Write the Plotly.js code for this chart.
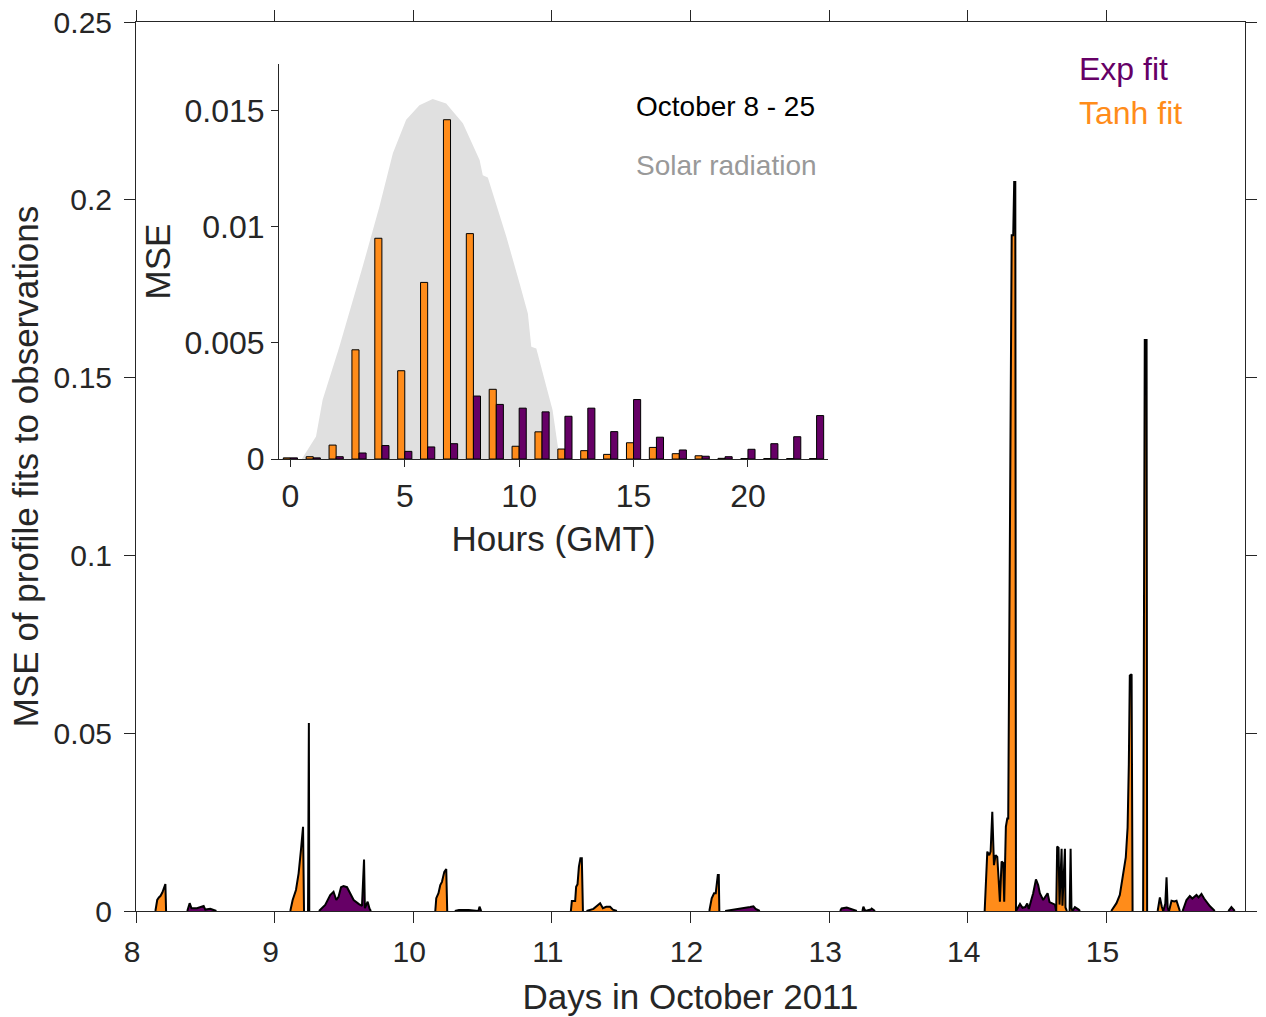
<!DOCTYPE html>
<html>
<head>
<meta charset="utf-8">
<script src="https://cdn.plot.ly/plotly-3.0.1.min.js"></script>
<style>
  html, body { margin: 0; padding: 0; background: #ffffff; }
  #chart { width: 1266px; height: 1017px; }
</style>
</head>
<body>
<div id="chart"></div>
<script>
// MSE of the tanh profile fit, by day of October 2011 (null separates bursts)
const tanhDay = [
  8.140, 8.148, 8.153, 8.165, 8.176, 8.190, 8.207, 8.212, 8.217, null,
  9.113, 9.130, 9.154, 9.173, 9.190, 9.205, 9.212, null,
  9.241, 9.244, 9.247, 9.250, null,
  10.159, 10.166, 10.182, 10.195, 10.207, 10.224, 10.238, 10.245, null,
  11.137, 11.144, 11.168, 11.175, 11.185, 11.195, 11.206, 11.216, 11.224, null,
  11.250, 11.300, 11.348, 11.368, 11.392, 11.420, 11.440, 11.469, null,
  12.136, 12.153, 12.170, 12.182, 12.197, 12.204, 12.208, null,
  14.122, 14.141, 14.155, 14.165, 14.177, 14.189, 14.201, 14.213, 14.223, 14.232,
  14.244, 14.256, 14.263, 14.275, 14.285, 14.292, 14.317, 14.328, 14.335, 14.343, 14.348, null,
  14.638, 14.645, 14.655, 14.662, 14.677, 14.683, 14.701, 14.705, 14.715, null,
  14.735, 14.742, 14.748, 14.755, null,
  15.035, 15.073, 15.097, 15.114, 15.126, 15.140, 15.153, 15.162, 15.169, 15.182, 15.189, null,
  15.265, 15.272, 15.277, 15.290, 15.294, null,
  15.370, 15.386, 15.400, 15.410, null,
  15.452, 15.470, 15.490, 15.506, 15.530
];
const tanhMSE = [
  0, 0.0022, 0.0031, 0.0038, 0.0042, 0.0052, 0.0076, 0.0076, 0, null,
  0, 0.0031, 0.0059, 0.0106, 0.0172, 0.0237, 0, null,
  0, 0.0529, 0.0529, 0, null,
  0, 0.0036, 0.0050, 0.0073, 0.0082, 0.0110, 0.0118, 0, null,
  0, 0.0028, 0.0028, 0.0068, 0.0075, 0.0125, 0.0148, 0.0148, 0, null,
  0, 0.0006, 0.0022, 0.0008, 0.0012, 0.0012, 0.0004, 0, null,
  0, 0.0036, 0.0050, 0.0050, 0.0101, 0.0101, 0, null,
  0, 0.0167, 0.0157, 0.0167, 0.0279, 0.0129, 0.0157, 0.0152, 0.0087, 0.0026,
  0.0139, 0.0135, 0.0026, 0.0237, 0.0260, 0.0260, 0.1900, 0.1900, 0.2050, 0.2050, 0, null,
  0, 0.0181, 0.0178, 0.0018, 0.0175, 0.0015, 0.0175, 0.0010, 0, null,
  0, 0.0175, 0.0010, 0, null,
  0, 0.0022, 0.0045, 0.0092, 0.0120, 0.0151, 0.0234, 0.0413, 0.0662, 0.0666, 0, null,
  0, 0.1480, 0.1606, 0.1606, 0, null,
  0, 0.0038, 0.0012, 0, null,
  0, 0.0029, 0.0027, 0.0029, 0
];

// MSE of the exponential profile fit, by day of October 2011
const expDay = [
  8.370, 8.387, 8.400, 8.440, 8.488, 8.500, 8.536, 8.580, null,
  9.320, 9.330, 9.365, 9.401, 9.425, 9.445, 9.461, 9.479, 9.497, 9.522, 9.546,
  9.570, 9.606, 9.630, 9.645, 9.651, 9.671, 9.685, 9.695, null,
  10.300, 10.330, 10.400, 10.470, 10.478, 10.490, null,
  12.250, 12.345, 12.400, 12.430, 12.454, 12.470, 12.500, null,
  13.079, 13.090, 13.127, 13.163, 13.200, null,
  13.240, 13.247, 13.260, 13.300, 13.307, 13.331, null,
  14.348, 14.377, 14.395, 14.415, 14.429, 14.440, 14.472, 14.492, 14.508, 14.520,
  14.544, 14.576, 14.590, 14.629, 14.638, null,
  14.755, 14.773, 14.800, 14.810, null,
  15.410, 15.425, 15.434, 15.442, 15.450, null,
  15.550, 15.578, 15.602, 15.620, 15.650, 15.665, 15.686, 15.705, 15.746, 15.782, null,
  15.880, 15.902, 15.926
];
const expMSE = [
  0, 0.0022, 0.0008, 0.0008, 0.0014, 0.0004, 0.0006, 0, null,
  0, 0.0004, 0.0017, 0.0045, 0.0054, 0.0031, 0.0040, 0.0067, 0.0070, 0.0067, 0.0050,
  0.0031, 0.0020, 0.0014, 0.0145, 0.0008, 0.0026, 0.0006, 0, null,
  0, 0.0003, 0.0003, 0, 0.0012, 0, null,
  0, 0.0005, 0.0008, 0.0011, 0.0013, 0.0006, 0, null,
  0, 0.0007, 0.0010, 0.0005, 0, null,
  0, 0.0012, 0, 0.0004, 0.0007, 0, null,
  0, 0.0020, 0.0009, 0.0011, 0.0021, 0.0006, 0.0050, 0.0089, 0.0073, 0.0050,
  0.0031, 0.0050, 0.0025, 0.0018, 0, null,
  0, 0.0011, 0.0004, 0, null,
  0, 0.0020, 0.0095, 0.0010, 0, null,
  0, 0.0031, 0.0042, 0.0035, 0.0045, 0.0038, 0.0048, 0.0035, 0.0014, 0, null,
  0, 0.0011, 0
];

// Hourly mean MSE, October 8 - 25
const hours = [0, 1, 2, 3, 4, 5, 6, 7, 8, 9, 10, 11, 12, 13, 14, 15, 16, 17, 18, 19, 20, 21, 22, 23];
const tanhHourly = [0.00005, 0.0001, 0.0006, 0.0047, 0.0095, 0.0038, 0.0076, 0.0146, 0.0097, 0.0030, 0.00055, 0.00117,
                    0.00043, 0.00036, 0.0002, 0.0007, 0.0005, 0.00023, 0.00014, 0.00003, 0.00002, 0.00002, 0.00002, 0.00002];
const expHourly  = [0.00005, 0.00005, 0.0001, 0.00026, 0.00058, 0.00033, 0.00052, 0.00066, 0.00271, 0.00235, 0.00219, 0.00203,
                    0.00184, 0.00219, 0.00118, 0.00256, 0.00094, 0.00039, 0.00012, 0.0001, 0.00042, 0.00066, 0.00096, 0.00187];

// Mean daily cycle of solar radiation (W/m^2)
const solarHour = [0.50, 0.98, 1.12, 1.41, 2.14, 3.16, 3.89, 4.48, 5.06, 5.64, 6.22, 6.81, 7.54, 8.27, 8.41, 8.63,
                   9.44, 10.02, 10.38, 10.53, 10.75, 11.19, 11.46, 11.77];
const solarRad  = [0, 31, 40, 105, 199, 341, 447, 542, 601, 627, 638, 630, 595, 530, 503, 499,
                   394, 311, 258, 199, 196, 128, 87, 0];

const ORANGE = '#ff8c1a';
const PURPLE = '#660066';
const INK = '#262626';
const FONT = 'Liberation Sans, Arial, Helvetica, sans-serif';

const traces = [
  {
    x: tanhDay, y: tanhMSE, type: 'scatter', mode: 'lines', name: 'Tanh fit',
    fill: 'tozeroy', fillcolor: ORANGE, line: { color: '#000000', width: 2 },
    connectgaps: false, xaxis: 'x', yaxis: 'y', hoverinfo: 'x+y'
  },
  {
    x: expDay, y: expMSE, type: 'scatter', mode: 'lines', name: 'Exp fit',
    fill: 'tozeroy', fillcolor: PURPLE, line: { color: '#000000', width: 2 },
    connectgaps: false, xaxis: 'x', yaxis: 'y', hoverinfo: 'x+y'
  },
  {
    x: solarHour, y: solarRad, type: 'scatter', mode: 'lines', name: 'Solar radiation',
    fill: 'tozeroy', fillcolor: '#e0e0e0', line: { color: '#e0e0e0', width: 0 },
    xaxis: 'x2', yaxis: 'y2', hoverinfo: 'x+y'
  },
  {
    x: hours, y: tanhHourly, type: 'bar', name: 'Tanh fit',
    marker: { color: ORANGE, line: { color: '#000000', width: 1 } },
    xaxis: 'x2', yaxis: 'y3'
  },
  {
    x: hours, y: expHourly, type: 'bar', name: 'Exp fit',
    marker: { color: PURPLE, line: { color: '#000000', width: 1 } },
    xaxis: 'x2', yaxis: 'y3'
  }
];

const axisCommon = {
  showline: true, linecolor: INK, linewidth: 1,
  ticks: 'outside', tickcolor: INK, tickwidth: 1,
  showgrid: false, zeroline: false,
  tickfont: { family: FONT, size: 30, color: INK }
};
const insetTickFont = { family: FONT, size: 32, color: INK };

const layout = {
  width: 1266, height: 1017,
  margin: { l: 136, r: 21, t: 22, b: 106 },
  paper_bgcolor: '#ffffff', plot_bgcolor: 'rgba(0,0,0,0)',
  showlegend: false,
  font: { family: FONT, color: INK },
  barmode: 'group', bargap: 0.38, bargroupgap: 0,
  xaxis: Object.assign({}, axisCommon, {
    domain: [0, 1], anchor: 'y', range: [8, 16],
    tickvals: [8, 9, 10, 11, 12, 13, 14, 15], ticklen: 11, mirror: 'ticks',
    ticklabelstandoff: 3, ticklabelshift: -4,
    title: { text: 'Days in October 2011', font: { family: FONT, size: 35, color: INK }, standoff: 17 }
  }),
  yaxis: Object.assign({}, axisCommon, {
    domain: [0, 1], anchor: 'x', range: [0, 0.25],
    tickvals: [0, 0.05, 0.1, 0.15, 0.2, 0.25], ticktext: ['0', '0.05', '0.1', '0.15', '0.2', '0.25'],
    ticklen: 11, mirror: 'ticks', ticklabelstandoff: 6,
    title: { text: 'MSE of profile fits to observations', font: { family: FONT, size: 35, color: INK }, standoff: 4 }
  }),
  xaxis2: Object.assign({}, axisCommon, {
    domain: [0.1289, 0.624], anchor: 'y2', range: [-0.5, 23.5],
    tickvals: [0, 5, 10, 15, 20], ticklen: 7, ticklabelstandoff: 2,
    tickfont: insetTickFont,
    title: { text: 'Hours (GMT)', font: { family: FONT, size: 35, color: INK }, standoff: 13 }
  }),
  yaxis2: {
    domain: [0.5084, 0.9528], anchor: 'x2', range: [0, 700],
    showline: false, showticklabels: false, ticks: '', showgrid: false, zeroline: false
  },
  yaxis3: Object.assign({}, axisCommon, {
    overlaying: 'y2', anchor: 'x2', side: 'left', range: [0, 0.017],
    tickvals: [0, 0.005, 0.01, 0.015], ticktext: ['0', '0.005', '0.01', '0.015'],
    ticklen: 7, ticklabelstandoff: 0, tickfont: insetTickFont,
    title: { text: 'MSE', font: { family: FONT, size: 35, color: INK }, standoff: 3 }
  }),
  annotations: [
    { xref: 'paper', yref: 'paper', x: 0.449, y: 0.9055, xanchor: 'left', yanchor: 'middle',
      text: 'October 8 - 25', showarrow: false, font: { family: FONT, size: 28, color: '#000000' } },
    { xref: 'paper', yref: 'paper', x: 0.449, y: 0.8391, xanchor: 'left', yanchor: 'middle',
      text: 'Solar radiation', showarrow: false, font: { family: FONT, size: 28, color: '#999999' } },
    { xref: 'paper', yref: 'paper', x: 0.8485, y: 0.9471, xanchor: 'left', yanchor: 'middle',
      text: 'Exp fit', showarrow: false, font: { family: FONT, size: 32, color: PURPLE } },
    { xref: 'paper', yref: 'paper', x: 0.8485, y: 0.8976, xanchor: 'left', yanchor: 'middle',
      text: 'Tanh fit', showarrow: false, font: { family: FONT, size: 32, color: ORANGE } }
  ]
};

Plotly.newPlot('chart', traces, layout, { displayModeBar: false, staticPlot: true });
</script>
</body>
</html>
